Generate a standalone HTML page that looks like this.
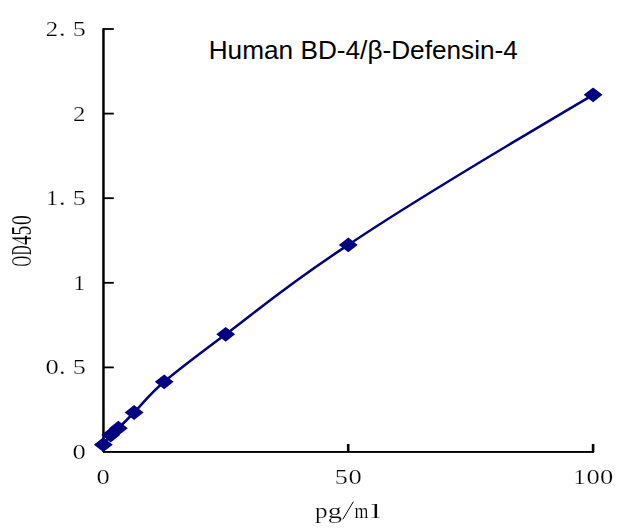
<!DOCTYPE html>
<html><head><meta charset="utf-8"><title>Human BD-4/β-Defensin-4</title>
<style>
html,body{margin:0;padding:0;background:#fff;}
body{width:638px;height:528px;overflow:hidden;font-family:"Liberation Sans",sans-serif;}
svg{display:block;}
</style></head><body>
<svg width="638" height="528" viewBox="0 0 638 528">
<rect width="638" height="528" fill="#fff"/>
<g fill="#000">
<rect x="102.2" y="28.3" width="2.5" height="423.6"/>
<rect x="103.0" y="451" width="491.1" height="1.9"/>
<rect x="103" y="366.50" width="10.8" height="1.8"/>
<rect x="103" y="281.90" width="10.8" height="1.8"/>
<rect x="103" y="197.30" width="10.8" height="1.8"/>
<rect x="103" y="112.70" width="10.8" height="1.8"/>
<rect x="103" y="28.10" width="10.8" height="1.8"/>
<rect x="346.90" y="444" width="2.6" height="8"/>
<rect x="591.80" y="444" width="2.6" height="8"/>
</g>
<text x="208.7" y="58.7" font-family="'Liberation Sans', sans-serif" font-size="26.2" fill="#000" textLength="309.2" lengthAdjust="spacingAndGlyphs">Human BD-4/β-Defensin-4</text>
<g font-family="'Liberation Serif', serif" fill="#000" stroke="#fff" stroke-width="0.22" opacity="0.99">
<text transform="translate(79.20,36.00) scale(1.280,1.000)" font-size="20.40" text-anchor="middle">5</text>
<text transform="translate(62.30,36.00) scale(1.300,1.000)" font-size="20.40" text-anchor="middle">.</text>
<text transform="translate(52.00,36.00) scale(1.220,1.000)" font-size="20.40" text-anchor="middle">2</text>
<text transform="translate(79.20,120.60) scale(1.220,1.000)" font-size="20.40" text-anchor="middle">2</text>
<text transform="translate(79.20,205.20) scale(1.280,1.000)" font-size="20.40" text-anchor="middle">5</text>
<text transform="translate(62.30,205.20) scale(1.300,1.000)" font-size="20.40" text-anchor="middle">.</text>
<text transform="translate(52.00,205.20) scale(1.180,1.000)" font-size="20.40" text-anchor="middle">1</text>
<text transform="translate(79.20,289.80) scale(1.180,1.000)" font-size="20.40" text-anchor="middle">1</text>
<text transform="translate(79.20,374.40) scale(1.280,1.000)" font-size="20.40" text-anchor="middle">5</text>
<text transform="translate(62.30,374.40) scale(1.300,1.000)" font-size="20.40" text-anchor="middle">.</text>
<text transform="translate(52.00,374.40) scale(1.300,1.000)" font-size="20.40" text-anchor="middle">0</text>
<text transform="translate(79.20,459.00) scale(1.300,1.000)" font-size="20.40" text-anchor="middle">0</text>
<text transform="translate(103.20,484.30) scale(1.300,1.000)" font-size="20.40" text-anchor="middle">0</text>
<text transform="translate(341.40,484.30) scale(1.280,1.000)" font-size="20.40" text-anchor="middle">5</text>
<text transform="translate(355.00,484.30) scale(1.300,1.000)" font-size="20.40" text-anchor="middle">0</text>
<text transform="translate(579.50,484.30) scale(1.180,1.000)" font-size="20.40" text-anchor="middle">1</text>
<text transform="translate(593.10,484.30) scale(1.300,1.000)" font-size="20.40" text-anchor="middle">0</text>
<text transform="translate(606.70,484.30) scale(1.300,1.000)" font-size="20.40" text-anchor="middle">0</text>
<text transform="translate(321.40,517.80) scale(1.200,1.000)" font-size="21.00" text-anchor="middle">p</text>
<text transform="translate(334.80,517.80) scale(1.360,1.000)" font-size="21.00" text-anchor="middle">g</text>
<text transform="translate(361.40,517.80) scale(0.850,1.000)" font-size="21.00" text-anchor="middle">m</text>
<text transform="translate(375.80,517.80) scale(1.700,1.000)" font-size="21.00" text-anchor="middle">l</text>
<line x1="342.8" y1="519.3" x2="353.4" y2="501.6" stroke="#000" stroke-width="1.0"/>
<text transform="translate(30.8,261.20) rotate(-90) scale(0.720,1.410)" font-size="20.40" text-anchor="middle" stroke-width="0.1">O</text>
<text transform="translate(30.8,250.50) rotate(-90) scale(0.660,1.410)" font-size="20.40" text-anchor="middle" stroke-width="0.1">D</text>
<text transform="translate(30.8,240.40) rotate(-90) scale(0.960,1.410)" font-size="20.40" text-anchor="middle" stroke-width="0.1">4</text>
<text transform="translate(30.8,230.50) rotate(-90) scale(0.960,1.410)" font-size="20.40" text-anchor="middle" stroke-width="0.1">5</text>
<text transform="translate(30.8,220.20) rotate(-90) scale(0.960,1.410)" font-size="20.40" text-anchor="middle" stroke-width="0.1">0</text>
</g>
<path d="M103.30,444.70 C104.53,443.08 108.18,437.75 110.70,435.00 C113.22,432.25 114.50,431.95 118.40,428.20 C122.30,424.45 126.47,420.23 134.10,412.50 C141.73,404.77 148.93,394.83 164.20,381.80 C179.47,368.77 195.02,357.12 225.70,334.30 C256.38,311.48 287.07,284.82 348.30,244.90 C409.53,203.48 552.30,118.82 593.10,94.80" fill="none" stroke="#000080" stroke-width="2.5" stroke-linejoin="round"/>
<g fill="#000080">
<path d="M93.90,444.70 L103.30,437.30 L112.70,444.70 L103.30,452.10 Z"/>
<path d="M101.30,435.00 L110.70,427.60 L120.10,435.00 L110.70,442.40 Z"/>
<path d="M109.00,428.20 L118.40,420.80 L127.80,428.20 L118.40,435.60 Z"/>
<path d="M124.70,412.50 L134.10,405.10 L143.50,412.50 L134.10,419.90 Z"/>
<path d="M154.80,381.80 L164.20,374.40 L173.60,381.80 L164.20,389.20 Z"/>
<path d="M216.30,334.30 L225.70,326.90 L235.10,334.30 L225.70,341.70 Z"/>
<path d="M338.90,244.90 L348.30,237.50 L357.70,244.90 L348.30,252.30 Z"/>
<path d="M583.70,94.80 L593.10,87.40 L602.50,94.80 L593.10,102.20 Z"/>
</g>
</svg>
</body></html>
